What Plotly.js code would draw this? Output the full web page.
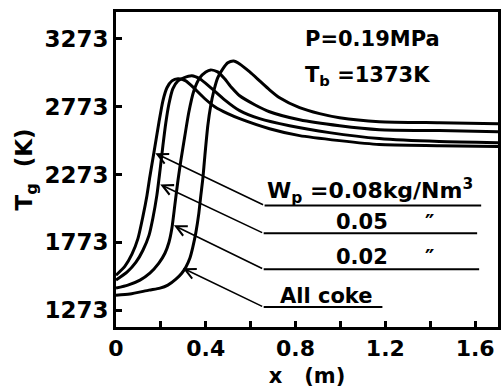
<!DOCTYPE html>
<html>
<head>
<meta charset="utf-8">
<script src="https://cdn.plot.ly/plotly-3.0.1.min.js"></script>
<style>html,body{margin:0;padding:0;background:#fff;}#chart{width:501px;height:392px;}</style>
</head>
<body>
<div id="chart"></div>
<script>
// Series: Wp = 0.08 kg/Nm3
var x008 = [0, 0.04, 0.071, 0.098, 0.12, 0.138, 0.151, 0.169, 0.191, 0.209, 0.227, 0.249, 0.276, 0.311, 0.351, 0.396, 0.44, 0.498, 0.551, 0.684, 0.818, 0.996, 1.173, 1.44, 1.702];
var t008 = [1530, 1597, 1685, 1802, 1964, 2119, 2258, 2435, 2655, 2817, 2913, 2964, 2979, 2964, 2905, 2832, 2773, 2722, 2685, 2611, 2560, 2523, 2494, 2486, 2479];
// Series: Wp = 0.05
var x005 = [0, 0.049, 0.089, 0.12, 0.147, 0.164, 0.182, 0.196, 0.209, 0.222, 0.236, 0.253, 0.276, 0.302, 0.338, 0.373, 0.418, 0.484, 0.551, 0.64, 0.773, 0.951, 1.173, 1.44, 1.702];
var t005 = [1494, 1552, 1626, 1714, 1824, 1949, 2119, 2302, 2486, 2655, 2795, 2905, 2964, 2986, 3001, 2979, 2920, 2824, 2744, 2685, 2633, 2582, 2538, 2516, 2508];
// Series: Wp = 0.02
var x002 = [0, 0.053, 0.107, 0.151, 0.191, 0.218, 0.236, 0.249, 0.262, 0.276, 0.289, 0.307, 0.324, 0.347, 0.373, 0.4, 0.422, 0.453, 0.484, 0.516, 0.551, 0.618, 0.684, 0.818, 0.996, 1.173, 1.44, 1.702];
var t002 = [1435, 1457, 1494, 1545, 1619, 1692, 1773, 1876, 2045, 2229, 2376, 2560, 2729, 2891, 2986, 3030, 3045, 3030, 2979, 2913, 2854, 2788, 2736, 2677, 2633, 2604, 2597, 2589];
// Series: All coke
var xAll = [0, 0.062, 0.147, 0.196, 0.231, 0.267, 0.293, 0.311, 0.329, 0.342, 0.356, 0.369, 0.378, 0.387, 0.396, 0.409, 0.422, 0.436, 0.453, 0.476, 0.498, 0.524, 0.551, 0.596, 0.64, 0.684, 0.729, 0.818, 0.907, 0.996, 1.173, 1.44, 1.702];
var tAll = [1383, 1391, 1420, 1435, 1457, 1501, 1545, 1589, 1655, 1736, 1846, 1986, 2119, 2244, 2413, 2633, 2780, 2891, 2986, 3052, 3097, 3111, 3089, 3030, 2964, 2898, 2839, 2766, 2722, 2692, 2663, 2655, 2648];

var xTickVals = [0, 0.4, 0.8, 1.2, 1.6];
var xTickText = ['0', '0.4', '0.8', '1.2', '1.6'];
var yTickVals = [1273, 1773, 2273, 2773, 3273];
var yTickText = ['1273', '1773', '2273', '2773', '3273'];

var seriesNames = ['0.08', '0.05', '0.02', 'All coke'];
var seriesX = [x008, x005, x002, xAll];
var seriesT = [t008, t005, t002, tAll];

var traces = seriesNames.map(function(n, i){
  return {x: seriesX[i], y: seriesT[i], name: n, type: 'scatter', mode: 'lines',
          line: {color: '#000', width: 3, shape: 'spline', smoothing: 0.6}, hoverinfo: 'skip'};
});

var FONT = 'DejaVu Sans, sans-serif';

// leader lines: tip on curve, corner, underline end
var leaders = [
  {tip: [0.175, 2430], corner: [0.662, 2045], end: 1.627},
  {tip: [0.197, 2200], corner: [0.658, 1839], end: 1.609},
  {tip: [0.258, 1898], corner: [0.658, 1574], end: 1.618},
  {tip: [0.298, 1582], corner: [0.658, 1295], end: 1.187}
];

var annotations = [];
var shapes = [];
leaders.forEach(function(l){
  annotations.push({x: l.tip[0], y: l.tip[1], ax: l.corner[0], ay: l.corner[1], xref: 'x', yref: 'y', axref: 'x', ayref: 'y',
    text: '', showarrow: true, arrowhead: 5, arrowsize: 1.3, arrowwidth: 1.6, arrowcolor: '#000', standoff: 0});
  shapes.push({type: 'line', xref: 'x', yref: 'y', x0: l.corner[0], y0: l.corner[1], x1: l.end, y1: l.corner[1],
    line: {color: '#000', width: 2}});
});

var labels = [
  {text: '<b>W<sub>p</sub> =0.08kg/Nm<sup>3</sup></b>', x: 0.662, y: 2150, size: 22},
  {text: '<b>0.05</b>', x: 0.97, y: 1920, size: 21},
  {text: '<b>\u2033</b>', x: 1.37, y: 1915, size: 21},
  {text: '<b>0.02</b>', x: 0.97, y: 1663, size: 21},
  {text: '<b>\u2033</b>', x: 1.37, y: 1658, size: 21},
  {text: '<b>All coke</b>', x: 0.72, y: 1376, size: 21},
  {text: '<b>P=0.19MPa</b>', x: 0.831, y: 3273, size: 21},
  {text: '<b>T<sub>b</sub> =1373K</b>', x: 0.831, y: 3001, size: 21}
];
labels.forEach(function(lb){
  annotations.push({x: lb.x, y: lb.y, xref: 'x', yref: 'y', text: lb.text, showarrow: false,
    xanchor: 'left', yanchor: 'middle', font: {family: FONT, size: lb.size, color: '#000'}});
});

var layout = {
  width: 501, height: 392,
  margin: {l: 116, r: 3, t: 12, b: 65},
  paper_bgcolor: '#fff', plot_bgcolor: '#fff',
  showlegend: false,
  font: {family: FONT, color: '#000'},
  xaxis: {
    range: [0, 1.702], tickvals: xTickVals, ticktext: xTickText,
    ticks: 'inside', ticklen: 6, tickwidth: 3, tickcolor: '#000',
    minor: {ticks: 'inside', dtick: 0.2, tick0: 0, ticklen: 6, tickwidth: 3, tickcolor: '#000'},
    showline: true, linewidth: 3, linecolor: '#000', mirror: true,
    showgrid: false, zeroline: false,
    tickfont: {family: FONT, size: 22, color: '#000', weight: 'bold'},
    title: {text: '<b>x &nbsp; (m)</b>', font: {family: FONT, size: 21, color: '#000'}, standoff: 8}
  },
  yaxis: {
    range: [1148, 3472], tickvals: yTickVals, ticktext: yTickText,
    ticks: 'inside', ticklen: 6, tickwidth: 3, tickcolor: '#000',
    showline: true, linewidth: 3, linecolor: '#000', mirror: true,
    showgrid: false, zeroline: false,
    tickfont: {family: FONT, size: 23, color: '#000', weight: 'bold'},
    title: {text: '<b>T<sub>g</sub> &nbsp;(K)</b>', font: {family: FONT, size: 23, color: '#000'}, standoff: 6}
  },
  annotations: annotations,
  shapes: shapes
};

Plotly.newPlot('chart', traces, layout, {staticPlot: true, displayModeBar: false});
</script>
</body>
</html>
